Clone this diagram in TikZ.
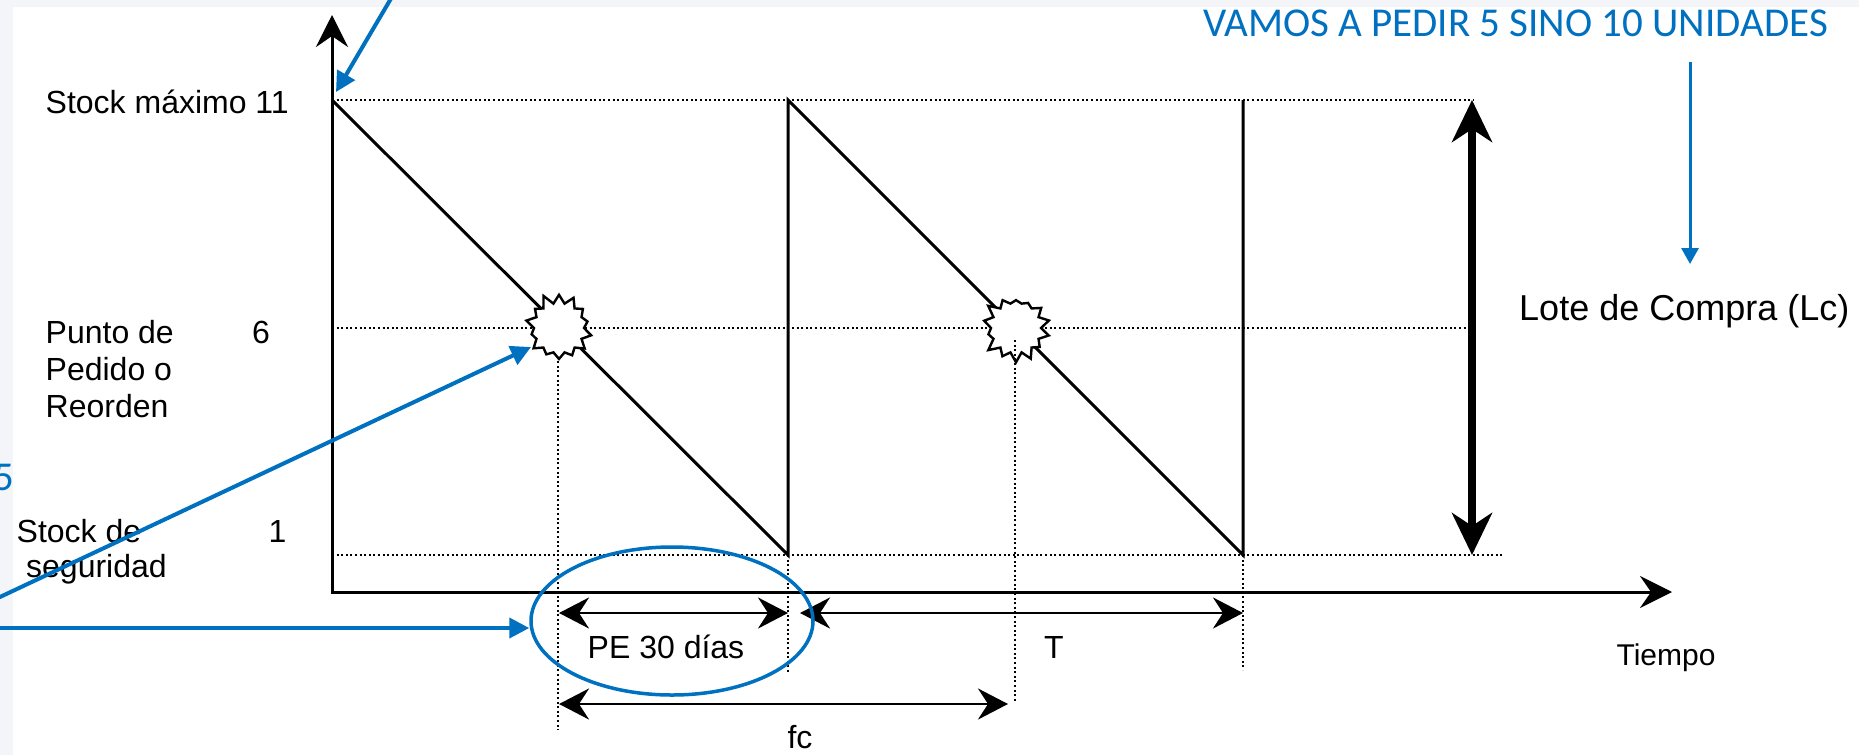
\documentclass[tikz,border=0pt]{standalone}
\usepackage{fontspec}
\setmainfont{Liberation Sans}
\newfontfamily\calfont{Carlito}
\usetikzlibrary{arrows.meta,shapes.symbols,shapes.geometric}
\definecolor{bgGray}{HTML}{F3F5F8}
\definecolor{offBlue}{HTML}{0070C0}
\tikzset{
  lbl/.style={inner sep=0pt, font=\fontsize{32}{38}\selectfont, text=black},
  lotelbl/.style={inner sep=0pt, font=\fontsize{36}{42}\selectfont, text=black},
  bluelbl/.style={inner sep=0pt, font=\calfont\fontsize{41}{48}\selectfont, text=offBlue},
  axisline/.style={line width=3pt, line join=miter,
     {Stealth[length=32pt,width=32pt,inset=11pt]}-{Stealth[length=32pt,width=32pt,inset=11pt]}},
  saw/.style={line width=3pt, line join=miter},
  guide/.style={line width=2pt, dash pattern=on 2pt off 2.6pt},
  dimarrow/.style={line width=2.8pt,
     {Stealth[length=30pt,width=31pt,inset=10pt]}-{Stealth[length=30pt,width=31pt,inset=10pt]}},
  lcarrow/.style={line width=7.5pt,
     {Stealth[length=42pt,width=40pt,inset=13pt]}-{Stealth[length=42pt,width=40pt,inset=13pt]}},
  bluearrow/.style={draw=offBlue, line width=4pt, -{Triangle[length=20pt,width=20pt]}},
  thinbluearrow/.style={draw=offBlue, line width=3pt, -{Triangle[length=16pt,width=17pt]}},
  burst/.style={starburst, draw, fill=white, line width=2.4pt, starburst points=14,
     starburst point height=11pt, minimum size=72pt, inner sep=0pt},
  oval/.style={ellipse, draw=offBlue, line width=3.5pt, minimum width=282pt, minimum height=148pt, inner sep=0pt}
}
\begin{document}
\begin{tikzpicture}[x=1pt,y=-1pt]
\useasboundingbox (0,0) rectangle (1859,755);
\fill[bgGray] (0,0) rectangle (1859,755);
\fill[white] (13,7) rectangle (1859,755);

% key points
\coordinate (O) at (332,592);
\coordinate (ytip) at (332,15);
\coordinate (xtip) at (1672,592);
\coordinate (A) at (332,100);
\coordinate (B) at (788,555);
\coordinate (C) at (788,100);
\coordinate (D) at (1243,555);
\coordinate (E) at (1243,100);

% guide lines (dotted)
\coordinate (topEnd) at (1474,100);
\coordinate (midStart) at (332,328);
\coordinate (midEnd) at (1470,328);
\coordinate (botStart) at (332,555);
\coordinate (botEnd) at (1502,555);
\draw[guide] (A) -- (topEnd);
\draw[guide] (midStart) -- (midEnd);
\draw[guide] (botStart) -- (botEnd);

\coordinate (v1a) at (558,352);
\coordinate (v1b) at (558,730);
\coordinate (v2b) at (788,672);
\coordinate (v3a) at (1015,340);
\coordinate (v3b) at (1015,702);
\coordinate (v4b) at (1243,670);
\draw[guide] (v1a) -- (v1b);
\draw[guide] (B) -- (v2b);
\draw[guide] (D) -- (v4b);

% axes
\draw[axisline] (ytip) -- (O) -- (xtip);

% sawtooth
\draw[saw] (A) -- (B) -- (C) -- (D) -- (E);

% reorder bursts
\node[burst, random starburst=11] (s1) at (559,328) {};
\node[burst, random starburst=23] (s2) at (1016,328) {};
\draw[guide] (v3a) -- (v3b);

% dimension arrows
\coordinate (pe1) at (559,613);
\coordinate (pe2) at (788,613);
\coordinate (t1) at (800,613);
\coordinate (t2) at (1243,613);
\coordinate (fc1) at (559,704);
\coordinate (fc2) at (1008,704);
\draw[dimarrow] (pe1) -- (pe2);
\draw[dimarrow] (t1) -- (t2);
\draw[dimarrow] (fc1) -- (fc2);

% lote de compra arrow
\coordinate (lc1) at (1472,100);
\coordinate (lc2) at (1472,555);
\draw[lcarrow] (lc1) -- (lc2);

% left labels
\node[lbl, anchor=base west] (smax) at (45.5,113) {Stock máximo 11};
\node[lbl, anchor=base west] (pp1) at (45.5,343) {Punto de};
\node[lbl, anchor=base west] (pp2) at (45.5,380) {Pedido o};
\node[lbl, anchor=base west] (pp3) at (45.5,417) {Reorden};
\node[lbl, anchor=base west] (six) at (252,343) {6};
\node[lbl, anchor=base west] (ss1) at (16.5,542) {Stock de};
\node[lbl, anchor=base west] (ss2) at (26,577) {seguridad};
\node[lbl, anchor=base west] (one) at (268.5,542) {1};

% bottom labels
\node[lbl, anchor=base] (pe) at (666,658) {PE 30 días};
\node[lbl, anchor=base] (tl) at (1054,658) {T};
\node[lbl, anchor=base, font=\fontsize{30}{36}\selectfont] (tiempo) at (1666,665) {Tiempo};
\node[lbl, anchor=base] (fc) at (800,748) {fc};

% right label
\node[lotelbl, anchor=base west] (lote) at (1519,320) {Lote de Compra (Lc)};

% blue annotations
\node[bluelbl, anchor=base east] (vamos) at (1828,36) {VAMOS A PEDIR 5 SINO 10 UNIDADES};
\node[bluelbl, anchor=base east] (five) at (14,490) {5};
\node[oval] (ov) at (672,621) {};

\coordinate (b1s) at (396,-10);
\coordinate (b1e) at (336,92);
\draw[bluearrow] (b1s) -- (b1e);
\coordinate (b2s) at (-20,606.4);
\coordinate (b2e) at (531,347);
\draw[bluearrow] (b2s) -- (b2e);
\coordinate (b3s) at (-20,628);
\draw[bluearrow] (b3s) -- (b3s -| ov.west);
\coordinate (b4s) at (1690,62);
\coordinate (b4e) at (1690,264);
\draw[thinbluearrow] (b4s) -- (b4e);
\end{tikzpicture}
\end{document}
